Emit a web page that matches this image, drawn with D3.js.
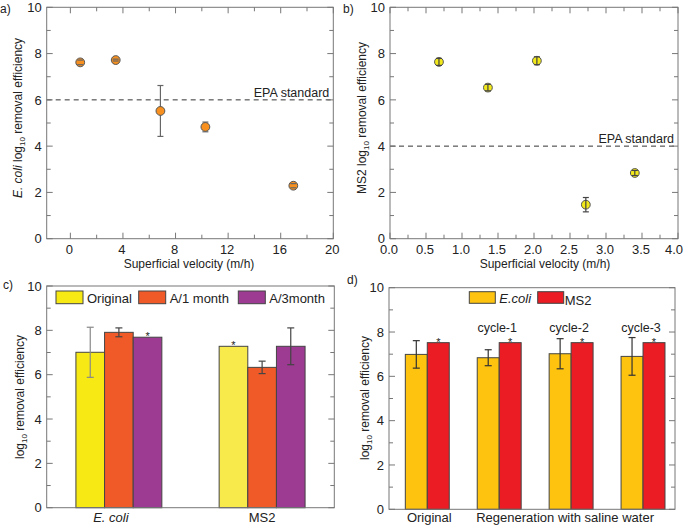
<!DOCTYPE html>
<html><head><meta charset="utf-8">
<script src="https://cdn.jsdelivr.net/npm/d3@7"></script>
<style>
body{margin:0;background:#fff;}
svg{font-family:"Liberation Sans",Arial,Helvetica,sans-serif;}
</style></head>
<body><svg id="chart" width="685" height="525"></svg>
<script>
// ---- Data ----
const aVelocity = [0.75, 3.45, 6.85, 10.27, 16.96];
const aEcoli    = [7.62, 7.72, 5.52, 4.83, 2.29];
const aErr      = [0.10, 0.04, 1.10, 0.21, 0.09];
const bVelocity = [0.68, 1.36, 2.04, 2.72, 3.40];
const bMS2      = [7.64, 6.53, 7.69, 1.47, 2.84];
const bErr      = [0.15, 0.14, 0.17, 0.31, 0.11];
const epaEcoli = 6, epaMS2 = 4;
const aXTicks = [0, 4, 8, 12, 16, 20];
const bXTicks = [0, 0.5, 1, 1.5, 2, 2.5, 3, 3.5, 4];
const yTicks = [0, 2, 4, 6, 8, 10];

const cCategories = ["E. coli", "MS2"];
const cSeries = ["Original", "A/1 month", "A/3month"];
const cOriginal = [7.01, 7.28];
const cA1month  = [7.91, 6.33];
const cA3month  = [7.69, 7.28];
const cOriginalErr = [1.13, 0];
const cA1monthErr  = [0.20, 0.28];
const cA3monthErr  = [0, 0.83];

const dGroups = ["Original", "cycle-1", "cycle-2", "cycle-3"];
const dSeries = ["E.coli", "MS2"];
const dEcoli    = [6.99, 6.84, 7.02, 6.90];
const dEcoliErr = [0.62, 0.36, 0.68, 0.85];
const dMS2      = [7.52, 7.52, 7.52, 7.52];
const dMS2Err   = [0, 0, 0, 0];

// ---- Setup ----
const svg = d3.select("#chart");
const frameCol = "#777";
const FS = 12;

function frame(g, x0, x1, y0, y1) {
  g.append("rect").attr("x", x0).attr("y", y0).attr("width", x1 - x0).attr("height", y1 - y0)
    .attr("fill", "none").attr("stroke", frameCol).attr("stroke-width", 1);
}

function yAxisTicks(g, y, x0, x1) {
  const major = d3.range(0, 11, 2), minor = d3.range(1, 10, 2);
  major.forEach(v => {
    g.append("line").attr("x1", x0).attr("x2", x0 + 6).attr("y1", y(v)).attr("y2", y(v)).attr("stroke", frameCol);
    g.append("line").attr("x1", x1).attr("x2", x1 - 6).attr("y1", y(v)).attr("y2", y(v)).attr("stroke", frameCol);
  });
  minor.forEach(v => {
    g.append("line").attr("x1", x0).attr("x2", x0 + 4).attr("y1", y(v)).attr("y2", y(v)).attr("stroke", frameCol);
    g.append("line").attr("x1", x1).attr("x2", x1 - 4).attr("y1", y(v)).attr("y2", y(v)).attr("stroke", frameCol);
  });
  g.selectAll(null).data(yTicks).enter().append("text")
    .attr("x", x0 - 5).attr("y", d => y(d)).attr("dy", "0.36em")
    .attr("text-anchor", "end").attr("font-size", 13).attr("fill", "#222").text(d => d);
}

function yLabel(g, cx, cy, parts) {
  const t = g.append("text").attr("transform", `translate(${cx},${cy}) rotate(-90)`)
    .attr("text-anchor", "middle").attr("font-size", FS).attr("fill", "#222");
  parts.forEach(p => {
    const ts = t.append("tspan").text(p.t);
    if (p.i) ts.attr("font-style", "italic");
    if (p.sub) ts.attr("font-size", 8).attr("dy", 3);
    if (p.after) ts.attr("dy", -3);
  });
}

// ---- Scatter panels ----
function scatterPanel(opts) {
  const g = svg.append("g");
  const x = d3.scaleLinear().domain(opts.xDomain).range([opts.x0, opts.x1]);
  const y = d3.scaleLinear().domain([0, 10]).range([opts.y1, opts.y0]);
  g.append("line").attr("x1", opts.x0).attr("x2", opts.x1).attr("y1", y(opts.epa)).attr("y2", y(opts.epa))
    .attr("stroke", "#333").attr("stroke-dasharray", "5,4").attr("stroke-width", 1);
  g.append("text").attr("x", opts.x1 - 4).attr("y", y(opts.epa) - 3).attr("text-anchor", "end")
    .attr("font-size", 12.5).attr("fill", "#222").text("EPA standard");
  frame(g, opts.x0, opts.x1, opts.y0, opts.y1);
  yAxisTicks(g, y, opts.x0, opts.x1);
  d3.range(0, opts.xDomain[1] + 1e-9, opts.minorStep).forEach(v => {
    const isMajor = Math.abs(v / opts.majorStep - Math.round(v / opts.majorStep)) < 1e-6;
    const len = isMajor ? 6 : 4;
    g.append("line").attr("x1", x(v)).attr("x2", x(v)).attr("y1", opts.y1).attr("y2", opts.y1 - len).attr("stroke", frameCol);
    g.append("line").attr("x1", x(v)).attr("x2", x(v)).attr("y1", opts.y0).attr("y2", opts.y0 + len).attr("stroke", frameCol);
  });
  g.selectAll(null).data(opts.xTicks).enter().append("text")
    .attr("x", d => Math.min(x(d) - 1, opts.maxLabelX)).attr("y", opts.y1 + 15).attr("text-anchor", "middle")
    .attr("font-size", 13).attr("fill", "#222").text(opts.fmt);
  g.append("text").attr("x", opts.xLabelX).attr("y", opts.y1 + 29).attr("text-anchor", "middle")
    .attr("font-size", FS).attr("fill", "#222").text("Superficial velocity (m/h)");
  const data = opts.xs.map((v, i) => ({ x: v, y: opts.ys[i], e: opts.errs[i] }));
  const stems = g.append("g"), dots = g.append("g"), caps = g.append("g");
  const stemLayer = opts.stemsOnTop ? caps : stems;
  data.forEach(d => {
    stemLayer.append("line").attr("x1", x(d.x)).attr("x2", x(d.x)).attr("y1", y(d.y - d.e)).attr("y2", y(d.y + d.e))
      .attr("stroke", opts.errCol).attr("stroke-width", 1.2);
    [d.y - d.e, d.y + d.e].forEach(v => {
      caps.append("line").attr("x1", x(d.x) - 3).attr("x2", x(d.x) + 3).attr("y1", y(v)).attr("y2", y(v))
        .attr("stroke", opts.errCol).attr("stroke-width", 1.2);
    });
    dots.append("circle").attr("cx", x(d.x)).attr("cy", y(d.y)).attr("r", 4.4)
      .attr("fill", opts.fill).attr("stroke", "#555").attr("stroke-width", 1);
  });
  return { g, x, y };
}

const A = scatterPanel({
  x0: 46.7, x1: 333.3, y0: 7.3, y1: 238.7, xDomain: [-1.8, 20], xTicks: aXTicks, minorStep: 2, majorStep: 4,
  fmt: d => d, epa: epaEcoli, xs: aVelocity, ys: aEcoli, errs: aErr, fill: "#f7901e", errCol: "#666",
  stemsOnTop: false, xLabelX: 189, maxLabelX: 1000
});
yLabel(A.g, 22, 118, [{ t: "E. coli", i: true }, { t: " log" }, { t: "10", sub: true }, { t: " removal efficiency", after: true }]);
svg.append("text").attr("x", 0).attr("y", 13).attr("font-size", FS).attr("fill", "#222").text("a)");

const B = scatterPanel({
  x0: 390, x1: 678, y0: 7.3, y1: 238.7, xDomain: [0, 4], xTicks: bXTicks, minorStep: 0.25, majorStep: 0.5,
  fmt: d => d.toFixed(1), epa: epaMS2, xs: bVelocity, ys: bMS2, errs: bErr, fill: "#f2e91a", errCol: "#444",
  stemsOnTop: true, xLabelX: 545, maxLabelX: 674
});
yLabel(B.g, 366, 118, [{ t: "MS2 log" }, { t: "10", sub: true }, { t: " removal efficiency", after: true }]);
svg.append("text").attr("x", 343).attr("y", 13).attr("font-size", FS).attr("fill", "#222").text("b)");

// ---- Panel c ----
(function () {
  const x0 = 46.7, x1 = 334.3, y0 = 286, y1 = 507.7;
  const g = svg.append("g");
  const x = d3.scaleBand().domain(cCategories).range([x0, x1]).paddingInner(0.4).paddingOuter(0.204);
  const xs = d3.scaleBand().domain(cSeries).range([0, x.bandwidth()]);
  const y = d3.scaleLinear().domain([0, 10]).range([y1, y0]);
  const vals = [cOriginal, cA1month, cA3month];
  const errs = [cOriginalErr, cA1monthErr, cA3monthErr];
  const colors = [["#f7ea14", "#f7ea4a"], ["#ef5a28", "#ef5a28"], ["#9c3b91", "#9c3b91"]];
  const errCols = [["#888", "#444"], ["#444", "#444"], ["#444", "#444"]];
  cCategories.forEach((c, ci) => {
    cSeries.forEach((s, si) => {
      const v = vals[si][ci], e = errs[si][ci];
      const bx = x(c) + xs(s), bw = xs.bandwidth();
      g.append("rect").attr("x", bx).attr("y", y(v)).attr("width", bw).attr("height", y(0) - y(v))
        .attr("fill", colors[si][ci]).attr("stroke", "#444").attr("stroke-width", 1);
      const cx = bx + bw / 2;
      if (e > 0) {
        g.append("line").attr("x1", cx).attr("x2", cx).attr("y1", y(v - e)).attr("y2", y(v + e)).attr("stroke", errCols[si][ci]).attr("stroke-width", 1.2);
        [v - e, v + e].forEach(t => g.append("line").attr("x1", cx - 3.5).attr("x2", cx + 3.5).attr("y1", y(t)).attr("y2", y(t)).attr("stroke", errCols[si][ci]).attr("stroke-width", 1.2));
      } else {
        g.append("text").attr("x", cx).attr("y", y(v) + 3).attr("text-anchor", "middle").attr("font-size", 11).attr("fill", "#222").text("*");
      }
    });
  });
  frame(g, x0, x1, y0, y1);
  yAxisTicks(g, y, x0, x1);
  cCategories.forEach((c, ci) => {
    g.append("text").attr("x", x(c) + x.bandwidth() / 2 - (ci === 0 ? 8 : 0)).attr("y", 522).attr("text-anchor", "middle")
      .attr("font-size", 13).attr("fill", "#222").attr("font-style", ci === 0 ? "italic" : "normal").text(c);
  });
  const lx = [56, 138.7, 238.3];
  cSeries.forEach((s, si) => {
    g.append("rect").attr("x", lx[si]).attr("y", 291).attr("width", 27).attr("height", 12.7)
      .attr("fill", colors[si][0]).attr("stroke", "#444");
    g.append("text").attr("x", lx[si] + 31).attr("y", 302.5).attr("font-size", 13).attr("fill", "#222").text(s);
  });
  yLabel(g, 24, 397, [{ t: "log" }, { t: "10", sub: true }, { t: " removal efficiency", after: true }]);
  svg.append("text").attr("x", 3).attr("y", 289).attr("font-size", FS).attr("fill", "#222").text("c)");
})();

// ---- Panel d ----
(function () {
  const x0 = 389, x1 = 675, y0 = 287.7, y1 = 509.3;
  const g = svg.append("g");
  const x = d3.scaleBand().domain(dGroups).range([x0, x1]).paddingInner(0.389).paddingOuter(0.183).align(0.62);
  const xs = d3.scaleBand().domain(dSeries).range([0, x.bandwidth()]);
  const y = d3.scaleLinear().domain([0, 10]).range([y1, y0]);
  const vals = [dEcoli, dMS2], errs = [dEcoliErr, dMS2Err];
  const colors = ["#fdc30f", "#ec1c24"];
  dGroups.forEach((grp, gi) => {
    dSeries.forEach((s, si) => {
      const v = vals[si][gi], e = errs[si][gi];
      const bx = x(grp) + xs(s), bw = xs.bandwidth();
      g.append("rect").attr("x", bx).attr("y", y(v)).attr("width", bw).attr("height", y(0) - y(v))
        .attr("fill", colors[si]).attr("stroke", "#444").attr("stroke-width", 1);
      const cx = bx + bw / 2;
      if (e > 0) {
        g.append("line").attr("x1", cx).attr("x2", cx).attr("y1", y(v - e)).attr("y2", y(v + e)).attr("stroke", "#333").attr("stroke-width", 1.2);
        [v - e, v + e].forEach(t => g.append("line").attr("x1", cx - 3.5).attr("x2", cx + 3.5).attr("y1", y(t)).attr("y2", y(t)).attr("stroke", "#333").attr("stroke-width", 1.2));
      } else {
        g.append("text").attr("x", cx).attr("y", y(v) + 3).attr("text-anchor", "middle").attr("font-size", 11).attr("fill", "#222").text("*");
      }
    });
    if (gi > 0) {
      g.append("text").attr("x", x(grp) + x.bandwidth() / 2 - 2).attr("y", 331.5).attr("text-anchor", "middle")
        .attr("font-size", 12.5).attr("fill", "#222").text(grp);
    }
  });
  frame(g, x0, x1, y0, y1);
  yAxisTicks(g, y, x0, x1);
  g.append("text").attr("x", x(dGroups[0]) + x.bandwidth() / 2 + 2).attr("y", 522).attr("text-anchor", "middle")
    .attr("font-size", 13).attr("fill", "#222").text("Original");
  const regX = (x(dGroups[1]) + x(dGroups[3]) + x.bandwidth()) / 2 - 6;
  g.append("text").attr("x", regX).attr("y", 522).attr("text-anchor", "middle")
    .attr("font-size", 13).attr("fill", "#222").text("Regeneration with saline water");
  const lx = [469.3, 537.7];
  dSeries.forEach((s, si) => {
    g.append("rect").attr("x", lx[si]).attr("y", 291.7).attr("width", 26).attr("height", 11.6)
      .attr("fill", colors[si]).attr("stroke", "#444");
    g.append("text").attr("x", lx[si] + 30 - (si === 1 ? 3 : 0)).attr("y", si === 1 ? 304.5 : 302.5).attr("font-size", 13)
      .attr("font-style", si === 0 ? "italic" : "normal").attr("fill", "#222").text(s);
  });
  yLabel(g, 369, 398, [{ t: "log" }, { t: "10", sub: true }, { t: " removal efficiency", after: true }]);
  svg.append("text").attr("x", 347).attr("y", 284).attr("font-size", FS).attr("fill", "#222").text("d)");
})();
</script></body></html>
